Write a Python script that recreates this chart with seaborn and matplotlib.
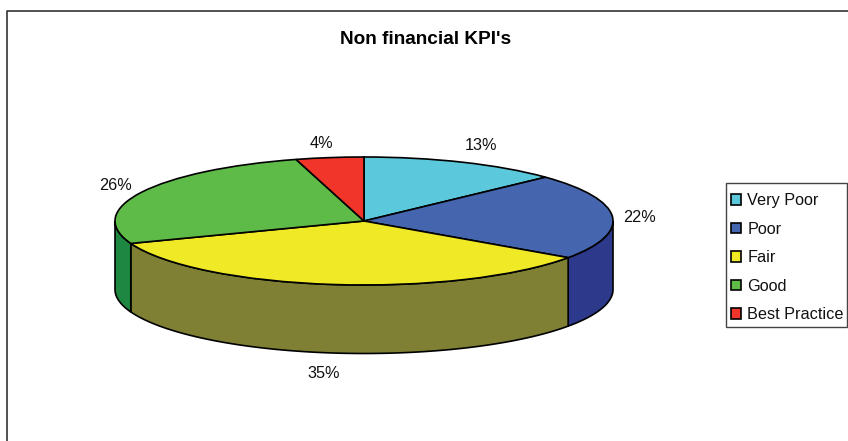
import numpy as np
import seaborn as sns
import matplotlib.pyplot as plt

sns.set_theme(style='white')
plt.rcParams['font.family'] = ['Liberation Sans', 'DejaVu Sans']

categories = ['Very Poor', 'Poor', 'Fair', 'Good', 'Best Practice']
values = [13.0, 21.7, 34.6, 26.3, 4.4]
top_colors = ['#5BC8DC', '#4566AE', '#F0E926', '#5FBB47', '#F1352B']
side_colors = ['#3A8A9C', '#2D3A8C', '#7F8034', '#1E8842', '#A0201A']

W, H = 848, 441
cx, cy, rx, ry, depth = 364, 221, 249, 64, 68.5


def fx(x):
    return x / W


def fy(y):
    return 1 - y / H


fig = plt.figure(figsize=(W / 100, H / 100), dpi=100)
ax = fig.add_axes([0, 0, 1, 1])

# flat pie first, then squash the unit circle into an ellipse with the limits
wedges, _ = ax.pie(values, colors=top_colors, startangle=90, counterclock=False,
                   radius=1, wedgeprops={'edgecolor': 'black', 'linewidth': 1.2, 'zorder': 3})
ax.set_aspect('auto')
ax.set_xlim(-cx / rx, (W - cx) / rx)
ax.set_ylim((cy - H) / ry, cy / ry)

# side wall of the wedges that face the viewer
bounds = np.concatenate([[0], np.cumsum(values)]) / sum(values) * 360
d = depth / ry
for i in range(len(values)):
    a0, a1 = max(bounds[i], 90), min(bounds[i + 1], 270)
    if a1 <= a0:
        continue
    t = np.radians(np.linspace(a0, a1, 80))
    xs, ys = np.sin(t), np.cos(t)
    ax.fill(np.r_[xs, xs[::-1]], np.r_[ys, ys[::-1] - d], facecolor=side_colors[i],
            edgecolor='black', linewidth=1.2, zorder=2)

# outer chart border, runs off the image on the right and bottom
fig.add_artist(plt.Line2D([fx(6.5), fx(6.5), 1], [0, fy(11), fy(11)], color='#333333', linewidth=1.2))

fig.text(fx(426), fy(39), "Non financial KPI's", ha='center', va='center',
         fontsize=13.7, fontweight='bold', color='black')

label_x = [481, 640, 324, 115, 321]
label_y = [146, 218, 373, 185, 143]
for v, x, y in zip(values, label_x, label_y):
    fig.text(fx(x), fy(y), f'{v:.0f}%', ha='center', va='center', fontsize=11.7, color='#111111')

# legend box drawn apart, rows sit a little low in it like the original
ax.add_patch(plt.Rectangle((fx(725.5), fy(327)), 121.5 / W, 144 / H, transform=fig.transFigure,
                           facecolor='white', edgecolor='#444444', linewidth=1.0, zorder=4))
leg = ax.legend(wedges, categories, loc='lower left', bbox_to_anchor=(fx(731), fy(322)),
                bbox_transform=fig.transFigure, fontsize=11.7, frameon=False, borderpad=0,
                labelspacing=0.83, handlelength=0.62, handleheight=0.62, handletextpad=0.38,
                borderaxespad=0, labelcolor='#111111')
leg.set_zorder(5)

fig.savefig('out.png', dpi=100)
